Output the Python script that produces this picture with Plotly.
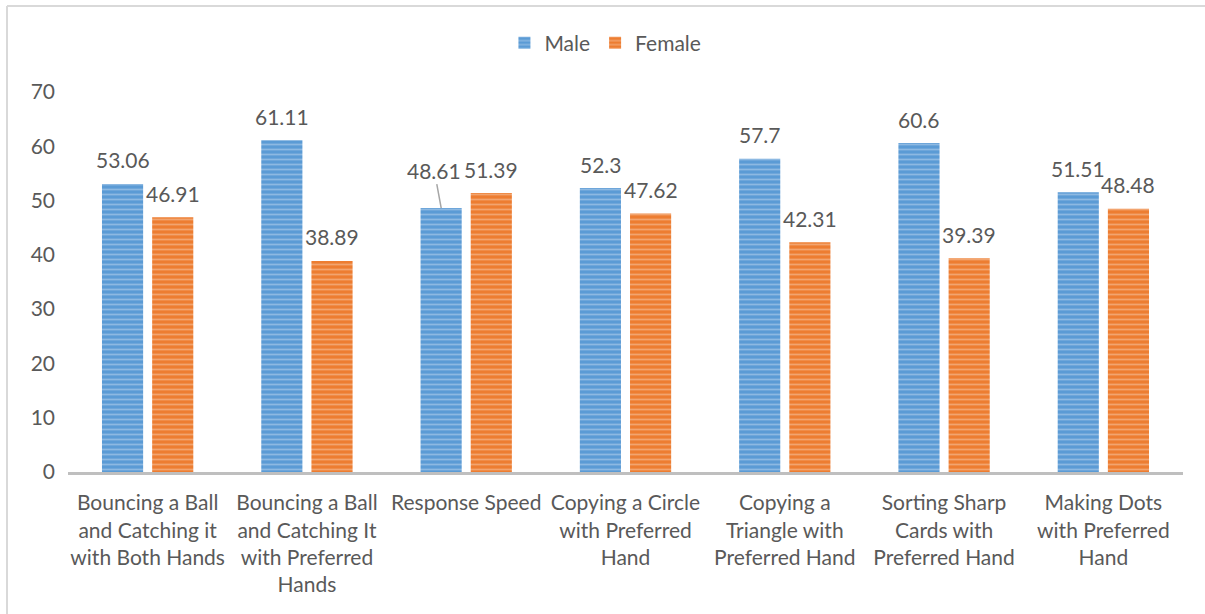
import plotly.graph_objects as go

categories = [
    "Bouncing a Ball<br>and Catching it<br>with Both Hands",
    "Bouncing a Ball<br>and Catching It<br>with Preferred<br>Hands",
    "Response Speed",
    "Copying a Circle<br>with Preferred<br>Hand",
    "Copying a<br>Triangle with<br>Preferred Hand",
    "Sorting Sharp<br>Cards with<br>Preferred Hand",
    "Making Dots<br>with Preferred<br>Hand",
]
male = [53.06, 61.11, 48.61, 52.3, 57.7, 60.6, 51.51]
female = [46.91, 38.89, 51.39, 47.62, 42.31, 39.39, 48.48]
male_labels = ["53.06", "61.11", "48.61", "52.3", "57.7", "60.6", "51.51"]
female_labels = ["46.91", "38.89", "51.39", "47.62", "42.31", "39.39", "48.48"]

FONT = "Lato"
FS = 21
TXT = "#595959"
BLUE = "#5B9BD5"
ORANGE = "#ED7D31"

fig = go.Figure()
fig.add_trace(go.Bar(
    name="Male", x=categories, y=male,
    marker=dict(color=BLUE, line=dict(width=0),
                pattern=dict(shape="-", fgcolor="rgba(255,255,255,0.6)", size=5, solidity=0.35, fillmode="overlay")),
))
fig.add_trace(go.Bar(
    name="Female", x=categories, y=female,
    marker=dict(color=ORANGE, line=dict(width=0),
                pattern=dict(shape="-", fgcolor="rgba(255,255,255,0.6)", size=5, solidity=0.35, fillmode="overlay")),
))

annotations = []
for i, c in enumerate(categories):
    if i == 2:
        annotations.append(dict(x=c, y=male[i], xref="x", yref="y", text=male_labels[i],
                                xshift=-25, showarrow=True, arrowhead=0, arrowwidth=1.5,
                                arrowcolor="#A6A6A6", ax=-7, ay=-38,
                                font=dict(family=FONT, size=FS, color=TXT)))
    else:
        annotations.append(dict(x=c, y=male[i], xref="x", yref="y", text=male_labels[i],
                                xshift=-25, yshift=24, showarrow=False, yanchor="middle",
                                font=dict(family=FONT, size=FS, color=TXT)))
    annotations.append(dict(x=c, y=female[i], xref="x", yref="y", text=female_labels[i],
                            xshift=25, yshift=24, showarrow=False, yanchor="middle",
                            font=dict(family=FONT, size=FS, color=TXT)))

shapes = [
    dict(type="line", xref="paper", yref="paper", x0=-0.0547, x1=1.1, y0=1.226, y1=1.226,
         line=dict(color="#D9D9D9", width=2)),
    dict(type="line", xref="paper", yref="paper", x0=-0.0547, x1=-0.0547, y0=1.226, y1=-0.5,
         line=dict(color="#D9D9D9", width=2)),
]

fig.update_layout(
    width=1205, height=614,
    margin=dict(l=68, r=22, t=92, b=142),
    paper_bgcolor="white", plot_bgcolor="white",
    barmode="group", bargap=0.37, bargroupgap=0.18,
    font=dict(family=FONT, size=FS, color=TXT),
    showlegend=True,
    legend=dict(orientation="h", x=0.482, xanchor="center", y=1.129, yanchor="middle",
                font=dict(family=FONT, size=FS, color=TXT), itemwidth=30),
    annotations=annotations,
    shapes=shapes,
    xaxis=dict(showgrid=False, showline=True, linecolor="#BFBFBF", linewidth=3,
               ticks="", ticklabelstandoff=10, tickfont=dict(family=FONT, size=FS, color=TXT), tickangle=0),
    yaxis=dict(range=[0, 70], dtick=10, showgrid=False, showline=False, zeroline=False,
               ticks="", ticklabelstandoff=12, tickfont=dict(family=FONT, size=FS, color=TXT)),
)

fig.write_html("out.html")
